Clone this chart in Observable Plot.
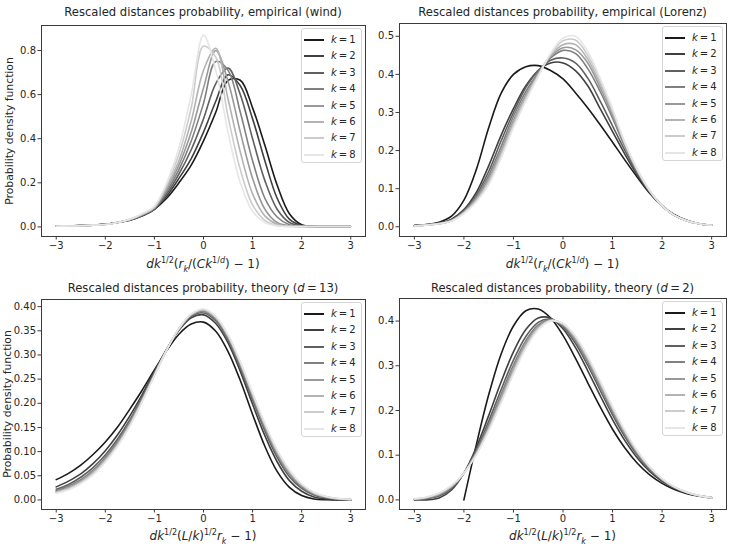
<!DOCTYPE html>
<html><head><meta charset="utf-8">
<script src="https://cdn.jsdelivr.net/npm/d3@7"></script>
<script src="https://cdn.jsdelivr.net/npm/@observablehq/plot@0.6"></script>
<style>
body{margin:0;background:#fff;}
#fig{position:relative;width:729px;height:546px;font-family:"DejaVu Sans",sans-serif;color:#262626;overflow:hidden;background:#fff;}
.panel{position:absolute;}
.title{position:absolute;font-size:11.6px;transform:translate(-50%,-50%);white-space:nowrap;}
.xlabel{position:absolute;font-size:12px;transform:translate(-50%,-50%);white-space:nowrap;}
.xlabel sup,.xlabel sub{font-size:8px;}
.ylabel{position:absolute;font-size:10.8px;transform:translate(-50%,-50%) rotate(-90deg);white-space:nowrap;}
.legend{position:absolute;width:61px;height:135px;border:1px solid #d4d4d4;border-radius:3px;background:rgba(255,255,255,0.85);box-sizing:border-box;}
.lrow{position:absolute;left:0;height:0;}
.sw{position:absolute;left:2px;top:-1px;width:20px;height:2px;}
.lt{position:absolute;left:29px;top:-7px;font-size:10px;line-height:14px;white-space:nowrap;}
</style></head>
<body>
<div id="fig"></div>
<script>
const ks = [1, 2, 3, 4, 5, 6, 7, 8];
const grays = ["#1a1a1a", "#404040", "#606060", "#808080", "#999999", "#b3b3b3", "#cccccc", "#e6e6e6"];
const xGrid = [-3, -2.75, -2.5, -2.25, -2, -1.75, -1.5, -1.25, -1, -0.75, -0.5, -0.25, 0, 0.25, 0.5, 0.75, 1, 1.25, 1.5, 1.75, 2, 2.25, 2.5, 2.75, 3];
const xTicks = [-3, -2, -1, 0, 1, 2, 3];

// empirical (wind): rows k = 1..8, columns follow xGrid
const windPdf = [
  [0.003,0.004,0.006,0.009,0.012,0.02,0.03,0.05,0.08,0.13,0.2,0.28,0.39,0.52,0.665,0.665,0.54,0.37,0.19,0.06,0.01,0.003,0.002,0.002,0.002],
  [0.003,0.004,0.006,0.009,0.012,0.02,0.03,0.05,0.08,0.14,0.22,0.31,0.43,0.57,0.69,0.64,0.49,0.3,0.13,0.035,0.006,0.002,0.002,0.002,0.002],
  [0.003,0.004,0.005,0.008,0.012,0.02,0.032,0.052,0.082,0.15,0.24,0.35,0.49,0.65,0.72,0.6,0.4,0.21,0.08,0.02,0.004,0.002,0.002,0.002,0.002],
  [0.003,0.004,0.005,0.008,0.012,0.02,0.032,0.054,0.085,0.16,0.26,0.39,0.56,0.75,0.71,0.52,0.3,0.13,0.045,0.01,0.003,0.002,0.002,0.002,0.002],
  [0.003,0.004,0.005,0.008,0.011,0.02,0.033,0.055,0.085,0.17,0.28,0.43,0.63,0.8,0.66,0.43,0.22,0.08,0.02,0.005,0.002,0.002,0.002,0.002,0.002],
  [0.003,0.004,0.005,0.008,0.011,0.02,0.034,0.057,0.09,0.18,0.3,0.48,0.71,0.81,0.58,0.34,0.15,0.05,0.012,0.003,0.002,0.002,0.002,0.002,0.002],
  [0.003,0.004,0.005,0.008,0.011,0.02,0.035,0.058,0.09,0.19,0.33,0.54,0.82,0.77,0.5,0.26,0.1,0.03,0.007,0.002,0.002,0.002,0.002,0.002,0.002],
  [0.003,0.004,0.005,0.008,0.011,0.02,0.035,0.06,0.095,0.2,0.36,0.6,0.87,0.71,0.43,0.2,0.07,0.02,0.004,0.002,0.002,0.002,0.002,0.002,0.002]
];

// empirical (Lorenz)
const lorenzPdf = [
  [0.003,0.006,0.012,0.028,0.07,0.15,0.26,0.35,0.4,0.42,0.423,0.41,0.388,0.352,0.312,0.268,0.222,0.175,0.13,0.088,0.055,0.032,0.017,0.008,0.004],
  [0.003,0.006,0.01,0.02,0.045,0.09,0.16,0.24,0.31,0.37,0.41,0.43,0.43,0.41,0.37,0.31,0.25,0.19,0.135,0.09,0.055,0.03,0.016,0.008,0.004],
  [0.003,0.005,0.009,0.018,0.042,0.083,0.145,0.225,0.3,0.365,0.41,0.437,0.443,0.43,0.39,0.33,0.265,0.2,0.14,0.092,0.055,0.03,0.016,0.008,0.004],
  [0.003,0.005,0.009,0.017,0.04,0.078,0.135,0.21,0.29,0.355,0.405,0.443,0.463,0.455,0.415,0.355,0.285,0.21,0.145,0.093,0.055,0.03,0.016,0.008,0.004],
  [0.002,0.005,0.008,0.016,0.038,0.074,0.127,0.2,0.28,0.347,0.402,0.447,0.47,0.465,0.43,0.365,0.293,0.215,0.147,0.094,0.055,0.03,0.016,0.008,0.004],
  [0.002,0.005,0.008,0.016,0.037,0.07,0.12,0.193,0.272,0.34,0.399,0.45,0.478,0.478,0.44,0.375,0.3,0.218,0.148,0.094,0.055,0.03,0.016,0.008,0.004],
  [0.002,0.005,0.008,0.015,0.036,0.067,0.115,0.186,0.265,0.335,0.397,0.452,0.488,0.49,0.45,0.383,0.305,0.22,0.15,0.095,0.055,0.03,0.016,0.008,0.004],
  [0.002,0.004,0.008,0.015,0.035,0.065,0.11,0.18,0.26,0.33,0.395,0.455,0.495,0.5,0.46,0.39,0.31,0.22,0.15,0.095,0.055,0.03,0.016,0.008,0.004]
];

// theory (d = 13)
const theory13Pdf = [
  [0.042,0.055,0.072,0.094,0.12,0.151,0.188,0.227,0.269,0.309,0.343,0.364,0.368,0.349,0.307,0.247,0.177,0.111,0.059,0.026,0.009,0.002,0.0004,0,0],
  [0.027,0.039,0.054,0.075,0.102,0.135,0.174,0.218,0.266,0.312,0.351,0.377,0.383,0.365,0.325,0.266,0.198,0.133,0.079,0.04,0.018,0.006,0.002,0.0005,0.0001],
  [0.022,0.032,0.047,0.067,0.093,0.126,0.166,0.213,0.263,0.311,0.353,0.38,0.387,0.371,0.331,0.273,0.207,0.143,0.088,0.048,0.024,0.01,0.004,0.001,0.0004],
  [0.019,0.029,0.042,0.062,0.088,0.121,0.162,0.209,0.261,0.311,0.353,0.382,0.39,0.374,0.335,0.278,0.212,0.148,0.094,0.053,0.027,0.012,0.005,0.002,0.0006],
  [0.017,0.026,0.039,0.058,0.084,0.117,0.159,0.207,0.259,0.311,0.354,0.383,0.392,0.376,0.338,0.281,0.216,0.152,0.097,0.056,0.029,0.013,0.006,0.002,0.0007],
  [0.016,0.024,0.037,0.056,0.082,0.115,0.156,0.205,0.258,0.31,0.354,0.384,0.393,0.378,0.339,0.283,0.218,0.155,0.1,0.059,0.031,0.015,0.006,0.002,0.0008],
  [0.015,0.022,0.035,0.054,0.08,0.113,0.154,0.204,0.258,0.31,0.355,0.384,0.394,0.379,0.341,0.285,0.22,0.157,0.102,0.061,0.032,0.015,0.007,0.003,0.0009],
  [0.014,0.021,0.034,0.052,0.078,0.111,0.153,0.203,0.257,0.31,0.355,0.385,0.395,0.38,0.342,0.286,0.222,0.159,0.104,0.062,0.033,0.016,0.007,0.003,0.0009]
];

// theory (d = 2); k = 1 starts at x = -2
const theory2Pdf = [
  [null,null,null,null,0,0.123,0.235,0.326,0.389,0.423,0.427,0.407,0.368,0.317,0.262,0.208,0.158,0.116,0.082,0.056,0.037,0.023,0.014,0.0084,0.0048],
  [0,0.0001,0.0043,0.0222,0.0598,0.1172,0.1885,0.2637,0.3311,0.3811,0.4069,0.4065,0.3827,0.341,0.2888,0.2331,0.1796,0.1326,0.0937,0.0635,0.0414,0.0259,0.0156,0.0091,0.0051],
  [0.0009,0.0024,0.0084,0.0259,0.0598,0.1111,0.1759,0.2463,0.3127,0.3656,0.3972,0.4043,0.3871,0.3504,0.3007,0.2452,0.1903,0.141,0.0997,0.0674,0.0437,0.0271,0.0161,0.0092,0.0051],
  [0.0014,0.0039,0.0109,0.0281,0.0598,0.1074,0.1683,0.2359,0.3017,0.3564,0.3915,0.4029,0.3898,0.3561,0.3077,0.2525,0.1967,0.146,0.1033,0.0698,0.045,0.0278,0.0164,0.0093,0.0051],
  [0.0018,0.0048,0.0125,0.0296,0.0598,0.1049,0.1632,0.2289,0.2943,0.3501,0.3876,0.402,0.3916,0.3599,0.3125,0.2574,0.2011,0.1494,0.1057,0.0714,0.046,0.0283,0.0166,0.0094,0.0051],
  [0.002,0.0055,0.0138,0.0307,0.0598,0.1031,0.1594,0.2236,0.2888,0.3454,0.3847,0.4013,0.3929,0.3627,0.3161,0.2611,0.2043,0.152,0.1075,0.0725,0.0466,0.0286,0.0168,0.0094,0.0051],
  [0.0022,0.0061,0.0147,0.0315,0.0598,0.1017,0.1565,0.2196,0.2845,0.3418,0.3824,0.4008,0.394,0.3649,0.3189,0.2639,0.2068,0.1539,0.1089,0.0735,0.0472,0.0289,0.0169,0.0095,0.0051],
  [0.0024,0.0065,0.0155,0.0322,0.0598,0.1005,0.1541,0.2163,0.281,0.3389,0.3806,0.4004,0.3948,0.3667,0.3211,0.2662,0.2088,0.1555,0.11,0.0742,0.0476,0.0291,0.017,0.0095,0.0051]
];

const titles = [
  "Rescaled distances probability, empirical (wind)",
  "Rescaled distances probability, empirical (Lorenz)",
  "Rescaled distances probability, theory (<i>d</i>\u2009=\u200913)",
  "Rescaled distances probability, theory (<i>d</i>\u2009=\u20092)"
];
const xLabelTop = "<i>dk</i><sup>1/2</sup>(<i>r<sub>k</sub></i>/(<i>Ck</i><sup>1/<i>d</i></sup>) \u2212 1)";
const xLabelBottom = "<i>dk</i><sup>1/2</sup>(<i>L</i>/<i>k</i>)<sup>1/2</sup><i>r<sub>k</sub></i> \u2212 1)";
const yLabel = "Probability density function";

const fig = document.getElementById("fig");

function toRows(table) {
  const rows = [];
  table.forEach((ys, i) => ys.forEach((y, j) => rows.push({k: ks[i], x: xGrid[j], y})));
  return rows;
}

function addPanel(o) {
  const chart = Plot.plot({
    width: o.width, height: o.height,
    marginLeft: o.ml, marginRight: o.mr, marginTop: o.mt, marginBottom: o.mb,
    style: {fontFamily: "DejaVu Sans, sans-serif", fontSize: "10px", color: "#262626", background: "transparent", overflow: "visible"},
    x: {domain: [-3.3, 3.3]},
    y: {domain: o.ydomain},
    color: {type: "ordinal", domain: ks, range: grays},
    marks: [
      Plot.line(toRows(o.table), {x: "x", y: "y", z: "k", stroke: "k", strokeWidth: 1.6, curve: "catmull-rom"}),
      Plot.frame({stroke: "#3a3a3a", strokeWidth: 1}),
      Plot.axisX({ticks: xTicks, tickFormat: d3.format("d"), tickSize: 3.5, tickPadding: 2, label: null, stroke: "#3a3a3a"}),
      Plot.axisY({ticks: o.yticks, tickFormat: d3.format(o.yfmt), tickSize: 3.5, tickPadding: 2, label: null, stroke: "#3a3a3a"})
    ]
  });
  const div = document.createElement("div");
  div.className = "panel";
  div.style.left = o.left + "px";
  div.style.top = o.top + "px";
  div.style.width = o.width + "px";
  div.appendChild(chart);
  fig.appendChild(div);

  const fl = o.left + o.ml, fr = o.left + o.width - o.mr;
  const cx = (fl + fr) / 2;
  const t = document.createElement("div");
  t.className = "title"; t.innerHTML = o.title;
  t.style.left = cx + "px"; t.style.top = o.titleY + "px";
  fig.appendChild(t);
  const xl = document.createElement("div");
  xl.className = "xlabel"; xl.innerHTML = o.xlabel;
  xl.style.left = cx + "px"; xl.style.top = o.xlabelY + "px";
  fig.appendChild(xl);
  if (o.ylabelX != null) {
    const yl = document.createElement("div");
    yl.className = "ylabel"; yl.textContent = yLabel;
    yl.style.left = o.ylabelX + "px";
    yl.style.top = (o.top + o.mt + (o.height - o.mt - o.mb) / 2) + "px";
    fig.appendChild(yl);
  }
  // legend
  const box = document.createElement("div");
  box.className = "legend";
  box.style.left = (fr - 64) + "px";
  box.style.top = (o.top + o.mt + 3) + "px";
  ks.forEach((k, i) => {
    const row = document.createElement("div");
    row.className = "lrow";
    row.style.top = (11 + i * 16.4) + "px";
    row.innerHTML = `<span class="sw" style="background:${grays[i]}"></span><span class="lt"><i>k</i>\u2009=\u2009${k}</span>`;
    box.appendChild(row);
  });
  fig.appendChild(box);
}

addPanel({table: windPdf, ydomain: [-0.0435, 0.9135], yticks: [0, 0.2, 0.4, 0.6, 0.8], yfmt: ".1f",
  left: 0, top: 0, width: 368, height: 260, ml: 41, mr: 3, mt: 25, mb: 24,
  title: titles[0], titleY: 12, xlabel: xLabelTop, xlabelY: 265, ylabelX: 9});
addPanel({table: lorenzPdf, ydomain: [-0.0255, 0.5335], yticks: [0, 0.1, 0.2, 0.3, 0.4, 0.5], yfmt: ".1f",
  left: 364, top: 0, width: 365, height: 260, ml: 35, mr: 3, mt: 23, mb: 24,
  title: titles[1], titleY: 12, xlabel: xLabelTop, xlabelY: 265, ylabelX: null});
addPanel({table: theory13Pdf, ydomain: [-0.0198, 0.4148], yticks: [0, 0.05, 0.1, 0.15, 0.2, 0.25, 0.3, 0.35, 0.4], yfmt: ".2f",
  left: 0, top: 270, width: 368, height: 260, ml: 41, mr: 3, mt: 29, mb: 21,
  title: titles[2], titleY: 288, xlabel: xLabelBottom, xlabelY: 537, ylabelX: 6.5});
addPanel({table: theory2Pdf, ydomain: [-0.0215, 0.4505], yticks: [0, 0.1, 0.2, 0.3, 0.4], yfmt: ".1f",
  left: 364, top: 270, width: 365, height: 260, ml: 35, mr: 3, mt: 28, mb: 21,
  title: titles[3], titleY: 288, xlabel: xLabelBottom, xlabelY: 537, ylabelX: null});
</script>
</body></html>
